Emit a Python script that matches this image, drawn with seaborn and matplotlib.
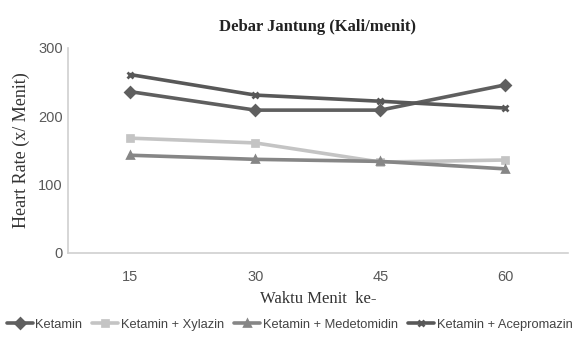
import matplotlib
matplotlib.use("Agg")
import matplotlib.pyplot as plt
import pandas as pd
import seaborn as sns

# values
menit = ["15", "30", "45", "60"]
ketamin = [236, 209, 209, 246]
ketamin_xylazin = [168, 161, 133, 136]
ketamin_medetomidin = [143, 137, 134, 123]
ketamin_acepromazin = [261, 231, 222, 212]

series = {
    "Ketamin": ketamin,
    "Ketamin + Xylazin": ketamin_xylazin,
    "Ketamin + Medetomidin": ketamin_medetomidin,
    "Ketamin + Acepromazin": ketamin_acepromazin,
}
rows = []
for name, vals in series.items():
    for m, v in zip(menit, vals):
        rows.append({"Menit": m, "HR": v, "Kelompok": name})
df = pd.DataFrame(rows)

sns.set_style("white")
plt.rcParams["font.family"] = ["Liberation Sans", "DejaVu Sans"]

colors = ["#5f5f5f", "#c4c4c4", "#868686", "#585858"]
markers = ["D", "s", "^", "x"]

fig = plt.figure(figsize=(5.79, 3.4), dpi=100)
ax = fig.add_axes([0.117, 0.256, 0.864, 0.603])

sns.pointplot(data=df, x="Menit", y="HR", hue="Kelompok", order=menit,
              palette=colors, markers=markers, linestyles="-",
              ax=ax, markersize=5, linewidth=2.6)

ax.set_ylim(0, 300)
ax.set_yticks([0, 100, 200, 300])
ax.set_xlim(-0.5, 3.5)
ax.tick_params(axis="both", length=0, labelsize=10.5, labelcolor="#595959")
ax.tick_params(axis="x", pad=12)
for s in ["top", "right"]:
    ax.spines[s].set_visible(False)
for s in ["left", "bottom"]:
    ax.spines[s].set_color("#d0d0d0")
    ax.spines[s].set_linewidth(1.2)

ax.set_title("Debar Jantung (Kali/menit)", family="Liberation Serif",
             fontweight="bold", fontsize=12, color="#222222", pad=12)
ax.set_ylabel("Heart Rate (x/ Menit)", family="Liberation Serif",
              fontsize=13, color="#333333", labelpad=6)
ax.set_xlabel("Waktu Menit  ke-", family="Liberation Serif",
              fontsize=12, color="#333333", labelpad=5)

ax.get_legend().remove()
handles, labels = ax.get_legend_handles_labels()
fig.legend(handles, labels, loc="center", bbox_to_anchor=(0.5, 0.045),
           ncol=4, frameon=False, fontsize=9.3, handlelength=2.0,
           columnspacing=0.8, handletextpad=0.2, labelcolor="#444444")

fig.savefig("out.png", dpi=100)
